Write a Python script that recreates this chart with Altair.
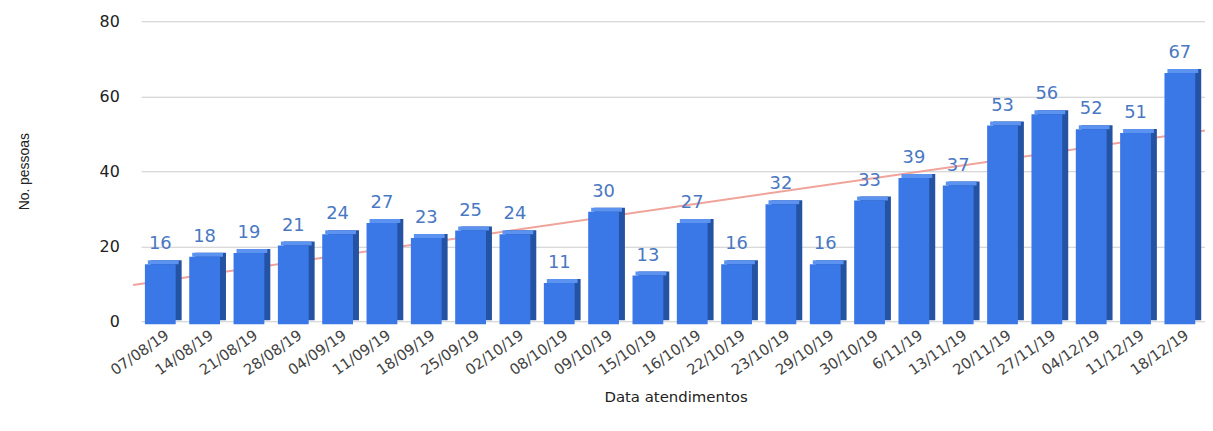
import altair as alt
import pandas as pd

dates = ["07/08/19", "14/08/19", "21/08/19", "28/08/19", "04/09/19", "11/09/19",
         "18/09/19", "25/09/19", "02/10/19", "08/10/19", "09/10/19", "15/10/19",
         "16/10/19", "22/10/19", "23/10/19", "29/10/19", "30/10/19", "6/11/19",
         "13/11/19", "20/11/19", "27/11/19", "04/12/19", "11/12/19", "18/12/19"]
values = [16, 18, 19, 21, 24, 27, 23, 25, 24, 11, 30, 13,
          27, 16, 32, 16, 33, 39, 37, 53, 56, 52, 51, 67]
y_ticks = [0, 20, 40, 60, 80]

df = pd.DataFrame({"data": dates, "value": values, "idx": list(range(len(dates)))})

FONT = "DejaVu Sans"
xband = alt.X("data:N", sort=None, scale=alt.Scale(paddingInner=0.3, paddingOuter=0.15),
              axis=alt.Axis(title="Data atendimentos", labelAngle=-35, labelFont=FONT,
                            labelFontSize=15, labelColor="#444444", labelPadding=6,
                            ticks=False, domain=False, grid=False, titleFont=FONT,
                            titleFontSize=15, titleFontWeight="normal", titleColor="#222222",
                            titleX=538, titleY=76, titleAlign="center",
                            titleBaseline="middle"))
yaxis = alt.Axis(title="No. pessoas", values=y_ticks, labelFont=FONT,
                 labelFontSize=16, labelColor="#222222", labelPadding=22,
                 ticks=False, domain=False, gridColor="#cccccc",
                 titleFont="Liberation Sans", titleFontSize=14,
                 titleFontWeight="normal", titleColor="#222222",
                 titleX=-117, titleY=151, titleAlign="center",
                 titleBaseline="middle", titleAngle=-90)
yq = alt.Y("value:Q", scale=alt.Scale(domain=[0, 80], nice=False), axis=yaxis)

base = alt.Chart(df)

trend = base.transform_regression("idx", "value", extent=[-0.68, 23.5]).mark_line(
    color="#f0a39a", strokeWidth=2
).encode(
    x=alt.X("idx:Q", scale=alt.Scale(domain=[-0.5, 23.5], nice=False, zero=False), axis=None),
    y=yq,
)

side = base.mark_bar(width=31, xOffset=3, yOffset=-1, y2Offset=-1, color="#2553a3").encode(
    x=xband, y=yq)
top = base.mark_bar(width=31, xOffset=0, yOffset=-1, y2Offset=3, color="#5c92f0").encode(
    x=xband, y=yq, y2="value:Q")
face = base.mark_bar(width=31, xOffset=-3, yOffset=3, y2Offset=3, color="#3b78e7").encode(
    x=xband, y=yq)
labels = base.mark_text(font=FONT, fontSize=18, color="#4a78c2", baseline="bottom",
                        dy=-8, xOffset=-3).encode(x=xband, y=yq, text="value:Q")

bars = alt.layer(side, top, face, labels)

chart = alt.layer(trend, bars).resolve_scale(x="independent").properties(
    width=1071, height=302,
    padding={"left": 134, "top": 12, "right": 0, "bottom": 90},
    autosize="none",
).configure(background="white").configure_view(
    stroke="transparent", strokeWidth=0
).configure_axis(domain=False, ticks=False).configure_axisX(grid=False)

chart.save("out.html", embed_options={"renderer": "svg", "actions": False})
